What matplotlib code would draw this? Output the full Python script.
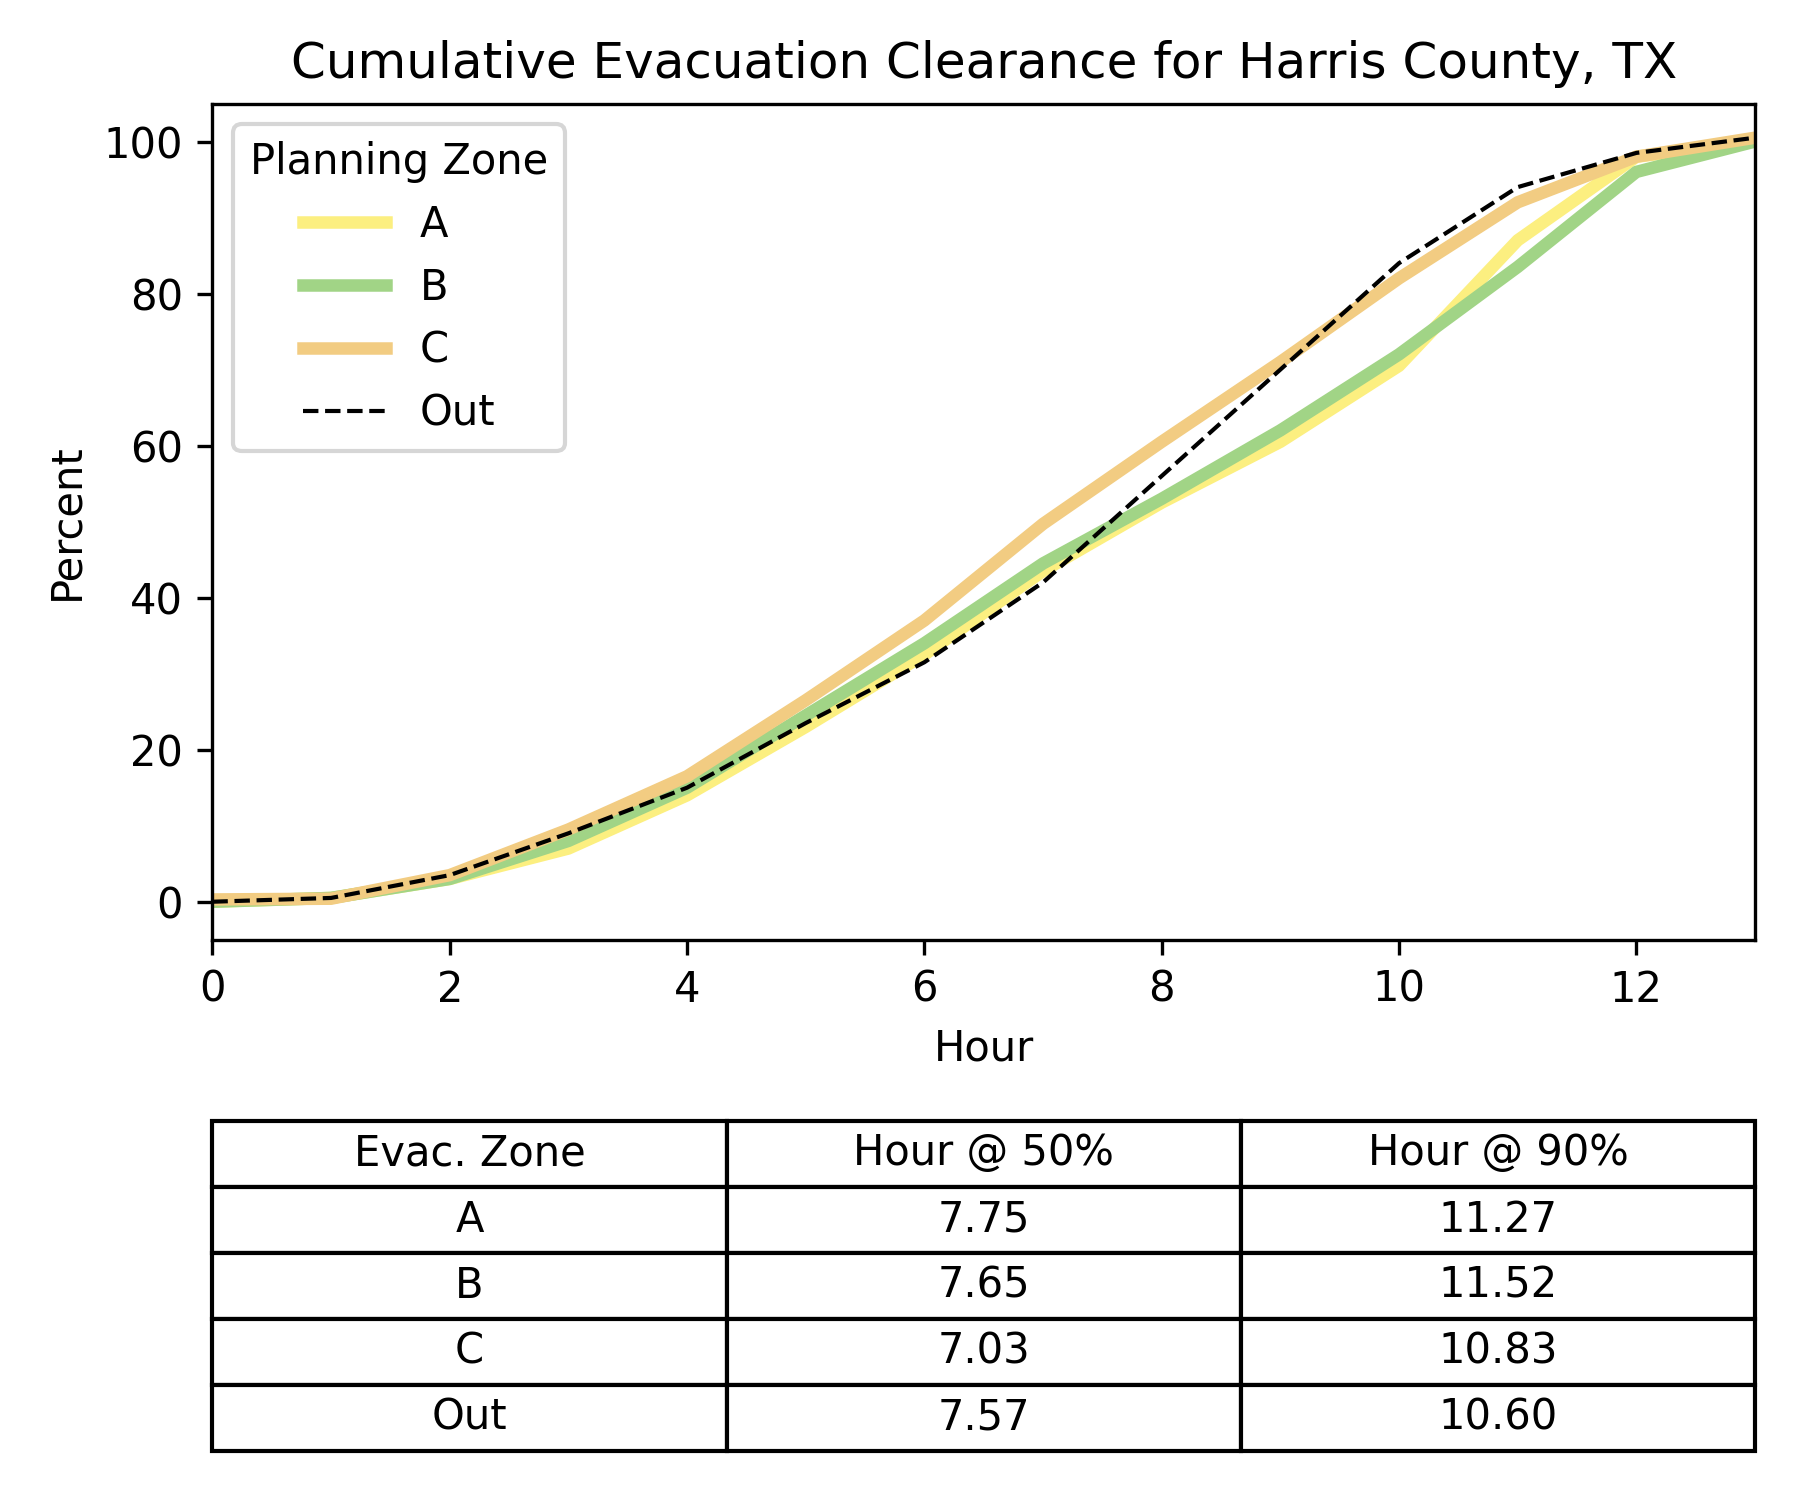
import matplotlib
matplotlib.use("Agg")
import matplotlib.pyplot as plt

hours = list(range(14))
zone_a = [0, 0.5, 3, 7, 14, 23, 32.5, 43.5, 52.5, 60.5, 70.5, 87, 98, 100]
zone_b = [0, 0.5, 3, 8, 15, 24.5, 34, 44.5, 53, 62, 72, 83.5, 96, 100]
zone_c = [0.3, 0.4, 3.5, 9.5, 16.5, 26.5, 37, 49.7, 60.5, 71, 82, 92, 98, 100.5]
zone_out = [0, 0.5, 3.5, 9, 15, 23.5, 31.5, 42, 56, 70, 84, 94, 98.5, 100.5]

table_cols = ["Evac. Zone", "Hour @ 50%", "Hour @ 90%"]
table_zones = ["A", "B", "C", "Out"]
hour50 = ["7.75", "7.65", "7.03", "7.57"]
hour90 = ["11.27", "11.52", "10.83", "10.60"]

fig = plt.figure(figsize=(6, 5), dpi=300)
ax = fig.add_axes([0.118, 0.3735, 0.857, 0.5575])
ax.plot(hours, zone_a, color="#fcef80", lw=3, label="A")
ax.plot(hours, zone_b, color="#a1d486", lw=3, label="B")
ax.plot(hours, zone_c, color="#f2cc82", lw=3, label="C")
ax.plot(hours, zone_out, "k--", lw=1, label="Out")
ax.set_xlim(0, 13)
ax.set_ylim(-5, 105)
ax.set_xlabel("Hour")
ax.set_ylabel("Percent")
ax.set_title("Cumulative Evacuation Clearance for Harris County, TX")
ax.legend(title="Planning Zone", loc="upper left")

tax = fig.add_axes([0.118, 0.033, 0.857, 0.22])
tax.axis("off")
rows = [[z, a, b] for z, a, b in zip(table_zones, hour50, hour90)]
tbl = tax.table(cellText=rows, colLabels=table_cols, cellLoc="center",
                bbox=[0, 0, 1, 1])
tbl.auto_set_font_size(False)
tbl.set_fontsize(10)

fig.savefig("out.png", dpi=300)
